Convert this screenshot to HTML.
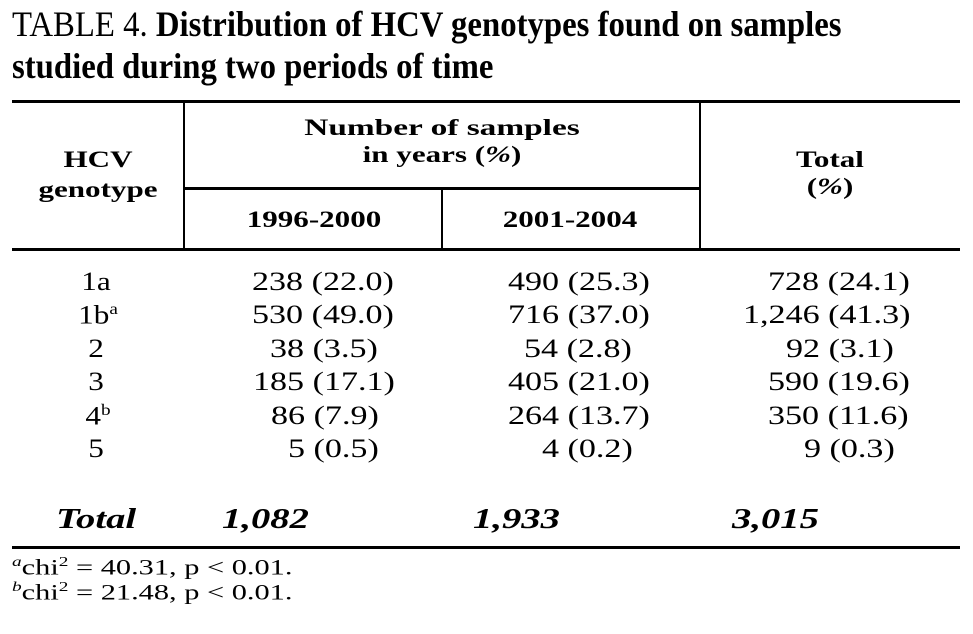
<!DOCTYPE html>
<html><head><meta charset="utf-8"><style>
body{margin:0;width:973px;height:634px;background:#fff;position:relative;overflow:hidden;font-family:"Liberation Serif",serif;color:#000}
.t{position:absolute;white-space:nowrap;line-height:1}
.l{position:absolute;background:#000}
.h{font-weight:bold;font-size:23px;transform-origin:0 0;transform:scaleX(1.35)}
.d{font-size:26px;transform-origin:0 0;transform:scaleX(1.31)}
.tot{font-weight:bold;font-style:italic;font-size:28px;transform-origin:0 0;transform:scaleX(1.38)}
.h.c{transform-origin:50% 0;transform:translateX(-50%) scaleX(1.35)}
.h.w{transform:translateX(-50%) scaleX(1.45)}
.d.c{transform-origin:50% 0;transform:translateX(-50%) scaleX(1.2)}
.ti{font-size:36px;transform-origin:0 0;transform:scaleX(0.91)}
.fn{font-size:22px;transform-origin:0 0;transform:scaleX(1.38)}
</style></head><body>
<div class="t ti" style="left:12px;top:6px">TABLE 4. <b>Distribution of HCV genotypes found on samples</b></div>
<div class="t ti" style="left:12px;top:48px;font-weight:bold">studied during two periods of time</div>

<div class="l" style="left:12px;top:100px;width:948px;height:3px"></div>
<div class="l" style="left:183px;top:101px;width:2px;height:149px"></div>
<div class="l" style="left:699px;top:101px;width:2px;height:149px"></div>
<div class="l" style="left:441px;top:188px;width:2px;height:62px"></div>
<div class="l" style="left:184px;top:187px;width:516px;height:3px"></div>
<div class="l" style="left:12px;top:248px;width:948px;height:3px"></div>
<div class="l" style="left:12px;top:546px;width:948px;height:3px"></div>

<div class="t h c" style="left:98px;top:148px">HCV</div>
<div class="t h c" style="left:98px;top:178px">genotype</div>
<div class="t h c w" style="left:442px;top:116px">Number of samples</div>
<div class="t h c" style="left:442px;top:143px">in years (<i>%</i>)</div>
<div class="t h c" style="left:314px;top:208px">1996-2000</div>
<div class="t h c" style="left:570px;top:208px">2001-2004</div>
<div class="t h c" style="left:830px;top:148px">Total</div>
<div class="t h c" style="left:830px;top:175px">(<i>%</i>)</div>

<div class="t d c" style="left:96px;top:269px">1a</div>
<div class="t d c" style="left:98px;top:302px">1b<sup style="font-size:16px">a</sup></div>
<div class="t d c" style="left:96px;top:336px">2</div>
<div class="t d c" style="left:96px;top:369px">3</div>
<div class="t d c" style="left:98px;top:403px">4<sup style="font-size:16px">b</sup></div>
<div class="t d c" style="left:96px;top:436px">5</div>

<div class="t d" style="left:252px;top:269px">238 (22.0)</div>
<div class="t d" style="left:252px;top:302px">530 (49.0)</div>
<div class="t d" style="left:270px;top:336px">38 (3.5)</div>
<div class="t d" style="left:253px;top:369px">185 (17.1)</div>
<div class="t d" style="left:271px;top:403px">86 (7.9)</div>
<div class="t d" style="left:288px;top:436px">5 (0.5)</div>

<div class="t d" style="left:508px;top:269px">490 (25.3)</div>
<div class="t d" style="left:508px;top:302px">716 (37.0)</div>
<div class="t d" style="left:524px;top:336px">54 (2.8)</div>
<div class="t d" style="left:508px;top:369px">405 (21.0)</div>
<div class="t d" style="left:508px;top:403px">264 (13.7)</div>
<div class="t d" style="left:542px;top:436px">4 (0.2)</div>

<div class="t d" style="left:768px;top:269px">728 (24.1)</div>
<div class="t d" style="left:743px;top:302px">1,246 (41.3)</div>
<div class="t d" style="left:786px;top:336px">92 (3.1)</div>
<div class="t d" style="left:768px;top:369px">590 (19.6)</div>
<div class="t d" style="left:768px;top:403px">350 (11.6)</div>
<div class="t d" style="left:804px;top:436px">9 (0.3)</div>

<div class="t tot" style="left:56px;top:506px">Total</div>
<div class="t tot" style="left:222px;top:506px">1,082</div>
<div class="t tot" style="left:473px;top:506px">1,933</div>
<div class="t tot" style="left:732px;top:506px">3,015</div>

<div class="t fn" style="left:12px;top:556px"><sup style="font-size:14px;font-style:italic">a</sup>chi<sup style="font-size:14px">2</sup> = 40.31, p &lt; 0.01.</div>
<div class="t fn" style="left:12px;top:581px"><sup style="font-size:14px;font-style:italic">b</sup>chi<sup style="font-size:14px">2</sup> = 21.48, p &lt; 0.01.</div>
</body></html>
